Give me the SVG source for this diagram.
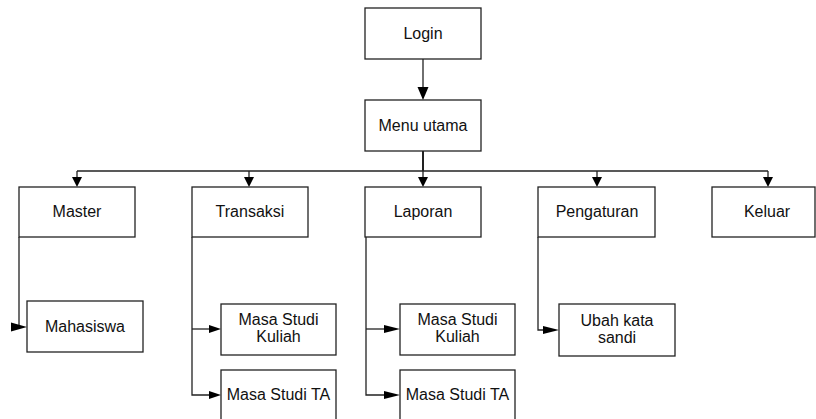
<svg xmlns="http://www.w3.org/2000/svg" width="816" height="419" viewBox="0 0 816 419">
<style>
.box{fill:#fff;stroke:#222;stroke-width:1.3}
.t{font-family:"Liberation Sans",Arial,sans-serif;font-size:16px;fill:#111;text-anchor:middle}
.ln{fill:none;stroke:#222;stroke-width:1.3}
.ah{fill:#000}
</style>
<rect width="816" height="419" fill="#fff"/>
<g id="connectors">
<line class="ln" x1="423" y1="59" x2="423" y2="88"/>
<polygon class="ah" points="417.5,87 428.5,87 423,100"/>
<line class="ln" x1="423" y1="151" x2="423" y2="171" style="stroke-width:2"/>
<line class="ln" x1="77" y1="171" x2="768" y2="171"/>
<line class="ln" x1="77" y1="171" x2="77" y2="179"/>
<line class="ln" x1="249" y1="171" x2="249" y2="179"/>
<line class="ln" x1="423" y1="171" x2="423" y2="179"/>
<line class="ln" x1="597" y1="171" x2="597" y2="179"/>
<line class="ln" x1="768" y1="171" x2="768" y2="179"/>
<polygon class="ah" points="72,177 82,177 77,187"/>
<polygon class="ah" points="244,177 254,177 249,187"/>
<polygon class="ah" points="418,177 428,177 423,187"/>
<polygon class="ah" points="592,177 602,177 597,187"/>
<polygon class="ah" points="763,177 773,177 768,187"/>
<polyline class="ln" points="19,237 19,327 14,327"/>
<polygon class="ah" points="11,322.5 27,327 11,331.5"/>
<polyline class="ln" points="192,237 192,395 212,395"/>
<line class="ln" x1="192" y1="329" x2="212" y2="329"/>
<polygon class="ah" points="209,325 221,329 209,333"/>
<polygon class="ah" points="209,391 221,395 209,399"/>
<polyline class="ln" points="366,237 366,395 388,395"/>
<line class="ln" x1="366" y1="329" x2="388" y2="329"/>
<polygon class="ah" points="384,325 400,329 384,333"/>
<polygon class="ah" points="384,391 400,395 384,399"/>
<polyline class="ln" points="538,237 538,330 546,330"/>
<polygon class="ah" points="543,326 559,330 543,334"/>
</g>
<g id="login"><rect class="box" x="365" y="8" width="116" height="51"/><text class="t" x="423" y="39">Login</text></g>
<g id="menu-utama"><rect class="box" x="365" y="100" width="116" height="51"/><text class="t" x="423" y="131">Menu utama</text></g>
<g id="master"><rect class="box" x="19" y="187" width="116" height="50"/><text class="t" x="77" y="217">Master</text></g>
<g id="transaksi"><rect class="box" x="192" y="187" width="116" height="50"/><text class="t" x="250" y="217">Transaksi</text></g>
<g id="laporan"><rect class="box" x="365" y="187" width="116" height="50"/><text class="t" x="423" y="217">Laporan</text></g>
<g id="pengaturan"><rect class="box" x="538" y="187" width="117" height="50"/><text class="t" x="597" y="217">Pengaturan</text></g>
<g id="keluar"><rect class="box" x="712" y="187" width="103" height="50"/><text class="t" x="767" y="217">Keluar</text></g>
<g id="mahasiswa"><rect class="box" x="27" y="301" width="116" height="51"/><text class="t" x="85" y="332">Mahasiswa</text></g>
<g id="transaksi-kuliah"><rect class="box" x="221" y="304" width="115" height="51"/><text class="t" x="278.5" y="325">Masa Studi</text><text class="t" x="278.5" y="342">Kuliah</text></g>
<g id="transaksi-ta"><rect class="box" x="221" y="370" width="115" height="60"/><text class="t" x="278.5" y="400">Masa Studi TA</text></g>
<g id="laporan-kuliah"><rect class="box" x="400" y="304" width="115" height="51"/><text class="t" x="457.5" y="325">Masa Studi</text><text class="t" x="457.5" y="342">Kuliah</text></g>
<g id="laporan-ta"><rect class="box" x="400" y="370" width="115" height="60"/><text class="t" x="457.5" y="400">Masa Studi TA</text></g>
<g id="ubah-kata-sandi"><rect class="box" x="559" y="304" width="116" height="52"/><text class="t" x="617" y="326">Ubah kata</text><text class="t" x="617" y="343">sandi</text></g>
</svg>
